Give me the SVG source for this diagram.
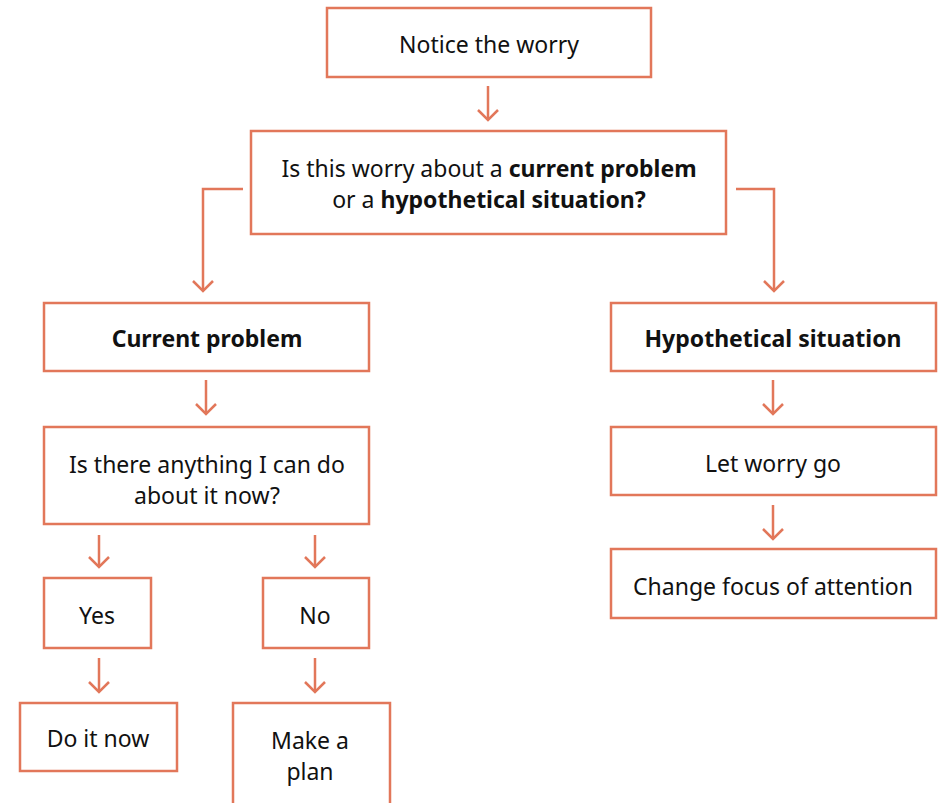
<svg xmlns="http://www.w3.org/2000/svg" width="944" height="803" viewBox="0 0 944 803">
<style>
.box{fill:#fff;stroke:#E2775A;stroke-width:2.5}
.con{fill:none;stroke:#E2775A;stroke-width:2.5}
text{font-family:"Noto Sans","Lato",sans-serif;font-size:23px;fill:#111;text-anchor:middle}
.b{font-weight:bold}
</style>
<defs>
<marker id="ah" viewBox="-12 -12 14 24" markerWidth="14" markerHeight="24" refX="0" refY="0" markerUnits="userSpaceOnUse" orient="auto">
<path d="M-10,-10 L0,0 L-10,10" fill="none" stroke="#E2775A" stroke-width="2.5"/>
</marker>
</defs>
<rect width="944" height="803" fill="#fff"/>
<g id="connectors">
<path class="con" d="M488,86 V120" marker-end="url(#ah)"/>
<path class="con" d="M243,189 H203 V291" marker-end="url(#ah)"/>
<path class="con" d="M736,189 H774 V291" marker-end="url(#ah)"/>
<path class="con" d="M206,380 V414" marker-end="url(#ah)"/>
<path class="con" d="M99,535 V567" marker-end="url(#ah)"/>
<path class="con" d="M315,535 V567" marker-end="url(#ah)"/>
<path class="con" d="M99,658 V692" marker-end="url(#ah)"/>
<path class="con" d="M315,658 V692" marker-end="url(#ah)"/>
<path class="con" d="M773,380 V414" marker-end="url(#ah)"/>
<path class="con" d="M773,505 V539" marker-end="url(#ah)"/>
</g>
<g id="notice"><rect class="box" x="327" y="8" width="324" height="69"/><text x="489" y="53">Notice the worry</text></g>
<g id="question"><rect class="box" x="251" y="131" width="475" height="103"/>
<text x="489" y="177">Is this worry about a <tspan class="b">current problem</tspan></text>
<text x="489" y="208">or a <tspan class="b">hypothetical situation?</tspan></text></g>
<g id="current"><rect class="box" x="44" y="303" width="325" height="68"/><text class="b" x="207" y="347">Current problem</text></g>
<g id="anything"><rect class="box" x="44" y="427" width="325" height="97"/>
<text x="207" y="473">Is there anything I can do</text><text x="207" y="504">about it now?</text></g>
<g id="yes"><rect class="box" x="44" y="578" width="107" height="70"/><text x="97" y="624">Yes</text></g>
<g id="no"><rect class="box" x="263" y="578" width="106" height="70"/><text x="315" y="624">No</text></g>
<g id="doitnow"><rect class="box" x="20" y="703" width="157" height="68"/><text x="98" y="747">Do it now</text></g>
<g id="makeplan"><rect class="box" x="233" y="703" width="157" height="110"/><text x="310" y="749">Make a</text><text x="310" y="780">plan</text></g>
<g id="hypothetical"><rect class="box" x="611" y="303" width="325" height="68"/><text class="b" x="773" y="347">Hypothetical situation</text></g>
<g id="letgo"><rect class="box" x="611" y="427" width="325" height="68"/><text x="773" y="472">Let worry go</text></g>
<g id="focus"><rect class="box" x="611" y="549" width="325" height="69"/><text x="773" y="595">Change focus of attention</text></g>
</svg>
